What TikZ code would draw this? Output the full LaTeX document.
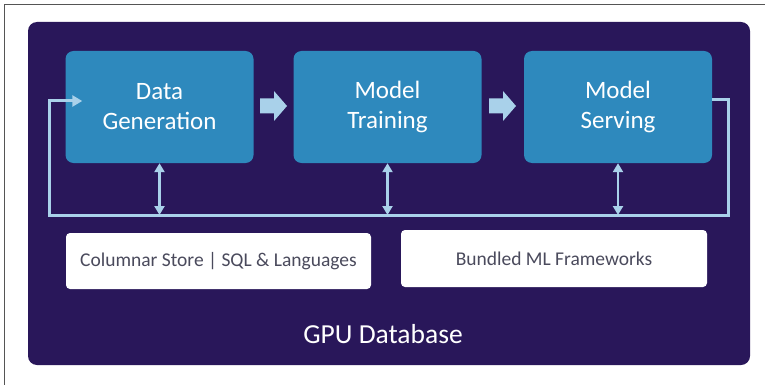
\documentclass[tikz,border=0pt]{standalone}
\usepackage{fontspec}
\setmainfont{Carlito}
\usetikzlibrary{arrows.meta}
\definecolor{bgdark}{HTML}{29175A}
\definecolor{boxblue}{HTML}{2E89BD}
\definecolor{lightblue}{HTML}{A9D1EA}
\definecolor{txtgray}{HTML}{4A4A5C}
\definecolor{framegray}{HTML}{555555}
\begin{document}
\begin{tikzpicture}[x=1pt,y=-1pt,
  stage/.style={fill=boxblue, rounded corners=8pt, minimum width=188pt, minimum height=112pt,
    text=white, font=\fontsize{25}{30}\selectfont, align=center, inner sep=0pt},
  layer/.style={fill=white, rounded corners=4pt, minimum width=305pt, minimum height=56pt,
    text=txtgray, font=\fontsize{19.5}{22}\selectfont, inner sep=0pt},
  flow/.style={draw=lightblue, line width=3pt},
  tipend/.style={-{Triangle[length=10pt,width=11pt]}},
  tipboth/.style={{Triangle[length=9pt,width=10pt]}-{Triangle[length=9pt,width=10pt]}},
  blockarrow/.style={fill=lightblue},
]
\useasboundingbox (0,0) rectangle (765,385);
\fill[white] (0,0) rectangle (765,385);
\draw[framegray, line width=1pt] (4,385) -- (4,5) -- (765,5);

\node (db) [fill=bgdark, rounded corners=9pt, minimum width=722pt, minimum height=343pt, inner sep=0pt] at (389,193.5) {};

\node (dg) [stage] at (159.5,107) {Data\\Generation};
\node (mt) [stage] at (387.5,107) {Model\\Training};
\node (ms) [stage] at (618,107) {Model\\Serving};

\coordinate (a1) at (260,106);
\coordinate (a2) at (489,106);
\fill[blockarrow] (a1) ++(0,-7.5) -- ++(14,0) -- ++(0,-7.5) -- ++(13,15) -- ++(-13,15) -- ++(0,-7.5) -- ++(-14,0) -- cycle;
\fill[blockarrow] (a2) ++(0,-7.5) -- ++(14,0) -- ++(0,-7.5) -- ++(13,15) -- ++(-13,15) -- ++(0,-7.5) -- ++(-14,0) -- cycle;

\node (cs) [layer] at (218.5,261) {Columnar Store | SQL \& Languages};
\node (bm) [layer, minimum width=306pt, minimum height=57pt] at (554,258.5) {Bundled ML Frameworks};

\node (gpu) [text=white, font=\fontsize{27.5}{32}\selectfont, anchor=base, inner sep=0pt] at (383,343) {GPU Database};

\coordinate (lr) at (728,215);
\coordinate (ll) at (49,215);
\coordinate (in) at ([xshift=17pt,yshift=6pt]dg.west);
\draw[flow, tipend] ([yshift=7pt]ms.east) -| (lr) -- (ll) |- (in);

\draw[flow, line width=2.5pt, tipboth] (dg.south) -- (dg.south |- lr);
\draw[flow, line width=2.5pt, tipboth] (mt.south) -- (mt.south |- lr);
\draw[flow, line width=2.5pt, tipboth] (ms.south) -- (ms.south |- lr);
\end{tikzpicture}
\end{document}
